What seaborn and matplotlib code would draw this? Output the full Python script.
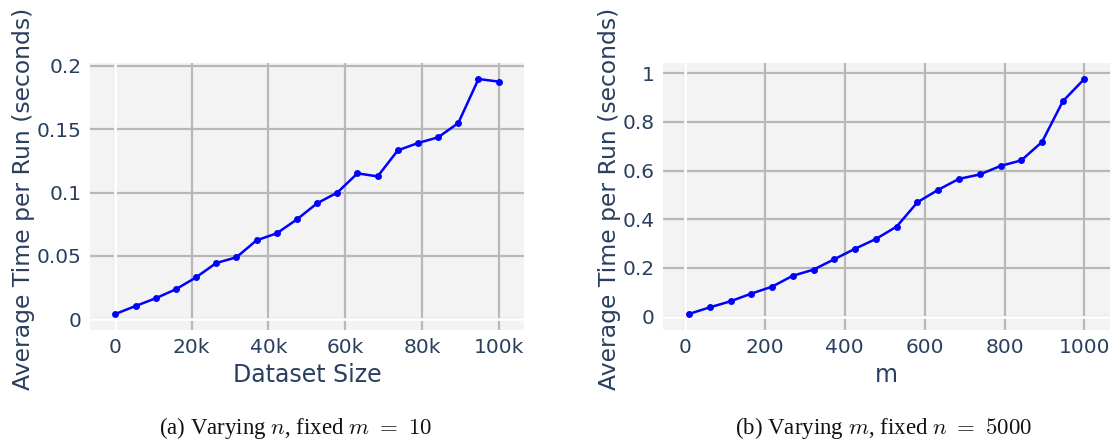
import matplotlib
matplotlib.use("Agg")
import matplotlib.pyplot as plt
from matplotlib.ticker import FuncFormatter
import pandas as pd
import seaborn as sns

# (a) varying n, fixed m = 10
n_sizes = [100, 5358, 10616, 15874, 21132, 26389, 31647, 36905, 42163, 47421,
           52679, 57937, 63195, 68453, 73711, 78968, 84226, 89484, 94742, 100000]
time_n = [0.0042, 0.0105, 0.0166, 0.0237, 0.0331, 0.0444, 0.0489, 0.0623, 0.0678, 0.0788,
          0.0915, 0.0999, 0.1151, 0.1127, 0.1332, 0.1390, 0.1435, 0.1548, 0.1895, 0.1874]

# (b) varying m, fixed n = 5000
m_sizes = [10, 62, 114, 166, 218, 270, 322, 374, 426, 478,
           530, 582, 634, 686, 738, 790, 842, 894, 946, 1000]
time_m = [0.011, 0.038, 0.063, 0.0945, 0.123, 0.168, 0.193, 0.236, 0.279, 0.319,
          0.370, 0.470, 0.521, 0.566, 0.584, 0.619, 0.642, 0.718, 0.885, 0.977]

x_titles = ["Dataset Size", "m"]
y_title = "Average Time per Run (seconds)"
captions = [r"(a) Varying $n$, fixed $m\ =\ 10$", r"(b) Varying $m$, fixed $n\ =\ 5000$"]

TEXT = "#2a3f5f"
BG = "#f3f3f3"
GRID = "#b8b8b8"

sns.set_theme(style="white")
plt.rcParams["font.family"] = ["DejaVu Sans"]
plt.rcParams["mathtext.fontset"] = "cm"

fig = plt.figure(figsize=(11.14, 4.45), dpi=100)
W, H = 1114, 445


def add_ax(x0, x1, y0, y1):
    return fig.add_axes([x0 / W, 1 - y1 / H, (x1 - x0) / W, (y1 - y0) / H])


ax_a = add_ax(90, 524, 63, 330)
ax_b = add_ax(663, 1110, 63, 330)

df_a = pd.DataFrame({"x": n_sizes, "y": time_n})
df_b = pd.DataFrame({"x": m_sizes, "y": time_m})

panels = [
    (ax_a, df_a, (-6500, 106600), (-0.0084, 0.2021), [0, 20000, 40000, 60000, 80000, 100000],
     [0, 0.05, 0.1, 0.15, 0.2], -0.127),
    (ax_b, df_b, (-55, 1064), (-0.055, 1.042), [0, 200, 400, 600, 800, 1000],
     [0, 0.2, 0.4, 0.6, 0.8, 1.0], -0.094),
]

for i, (ax, df, xlim, ylim, xt, yt, ylab_x) in enumerate(panels):
    ax.set_facecolor(BG)
    sns.lineplot(data=df, x="x", y="y", ax=ax, color="#0000ff", linewidth=1.8,
                 marker="o", markersize=5, markeredgewidth=0, zorder=3)
    ax.set_xlim(*xlim)
    ax.set_ylim(*ylim)
    ax.set_xticks(xt)
    ax.set_yticks(yt)
    ax.set_axisbelow(True)
    ax.grid(True, color=GRID, linewidth=1.6)
    ax.axhline(0, color="white", linewidth=2, zorder=1)
    ax.axvline(0, color="white", linewidth=2, zorder=1)
    for s in ax.spines.values():
        s.set_visible(False)
    ax.tick_params(length=0, labelsize=14.5, labelcolor=TEXT, pad=6)
    if i == 0:
        ax.xaxis.set_major_formatter(FuncFormatter(lambda v, p: "0" if v == 0 else f"{v / 1000:g}k"))
    ax.yaxis.set_major_formatter(FuncFormatter(lambda v, p: f"{v:g}"))
    ax.set_xlabel(x_titles[i], fontsize=17, color=TEXT, labelpad=4)
    ax.set_ylabel(y_title, fontsize=16.9, color=TEXT)
    ax.yaxis.set_label_coords(ylab_x, 0.49)

for cx, cap in zip([296, 884], captions):
    fig.text(cx / W, 1 - 428 / H, cap, ha="center", va="center",
             fontsize=16.5, family=["Liberation Serif"], color="#111111")

fig.savefig("out.png", dpi=100)
